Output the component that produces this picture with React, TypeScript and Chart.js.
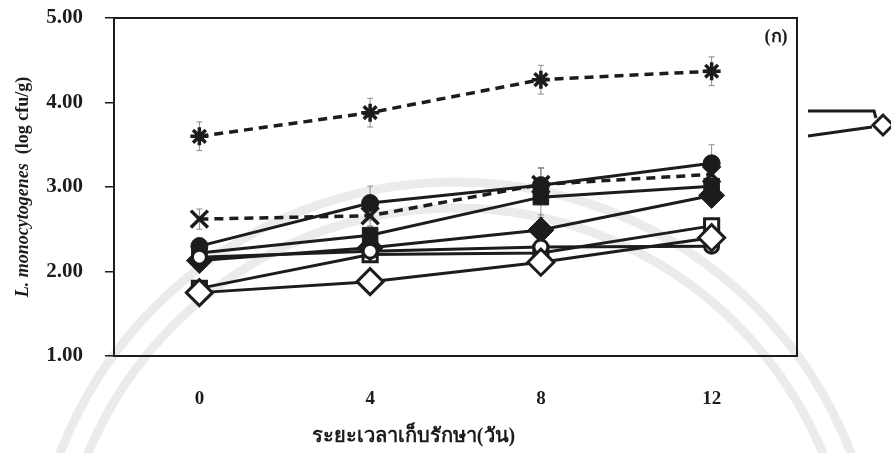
import React, { useEffect, useRef } from 'react';
import { Chart, registerables } from 'chart.js';

Chart.register(...registerables);

// Storage time (days)
const days = ['0', '4', '8', '12'];
const yMin = 1;
const yMax = 5;

// log cfu/g per treatment, with standard deviations
const asteriskDashed = [3.6, 3.88, 4.27, 4.37];
const asteriskErr = [0.17, 0.17, 0.17, 0.17];
const crossDashed = [2.62, 2.66, 3.03, 3.15];
const crossErr = [0.12, 0.12, 0.2, 0.1];
const filledCircle = [2.3, 2.81, 3.02, 3.28];
const filledCircleErr = [0.1, 0.2, 0.2, 0.22];
const filledSquare = [2.22, 2.43, 2.88, 3.01];
const filledSquareErr = [0.08, 0.1, 0.24, 0.1];
const filledDiamond = [2.13, 2.28, 2.49, 2.9];
const filledDiamondErr = [0.08, 0.1, 0.18, 0.12];
const openCircle = [2.17, 2.24, 2.29, 2.3];
const openCircleErr = [0.05, 0.05, 0.06, 0.06];
const openSquare = [1.8, 2.2, 2.22, 2.54];
const openSquareErr = [0.06, 0.06, 0.06, 0.09];
const openDiamond = [1.75, 1.88, 2.11, 2.4];
const openDiamondErr = [0.05, 0.05, 0.06, 0.06];

const INK = '#1c1c1c';
const SERIF = '"Liberation Serif", "Times New Roman", serif';

const watermark = {
  id: 'watermark',
  beforeDraw(chart: any) {
    const { ctx, chartArea } = chart;
    const cx = (chartArea.left + chartArea.right) / 2;
    const cy = chartArea.bottom + 250;
    ctx.save();
    ctx.strokeStyle = 'rgba(0,0,0,0.08)';
    ctx.lineWidth = 9;
    [398, 424].forEach((r) => {
      ctx.beginPath();
      ctx.arc(cx, cy, r, Math.PI, 2 * Math.PI);
      ctx.stroke();
    });
    ctx.restore();
  },
};

const frameAndErrors = {
  id: 'frameAndErrors',
  beforeDatasetsDraw(chart: any) {
    const { ctx, chartArea, scales } = chart;
    const y = scales.y;
    ctx.save();
    ctx.strokeStyle = INK;
    ctx.lineWidth = 2;
    ctx.strokeRect(chartArea.left, chartArea.top, chartArea.right - chartArea.left, chartArea.bottom - chartArea.top);

    ctx.strokeStyle = '#8c8c8c';
    ctx.lineWidth = 1;
    chart.data.datasets.forEach((ds: any, i: number) => {
      const err = ds.err;
      if (!err) return;
      const meta = chart.getDatasetMeta(i);
      meta.data.forEach((pt: any, j: number) => {
        const v = ds.data[j];
        const x = pt.x;
        const y1 = y.getPixelForValue(v + err[j]);
        const y2 = y.getPixelForValue(v - err[j]);
        ctx.beginPath();
        ctx.moveTo(x, y1);
        ctx.lineTo(x, y2);
        ctx.moveTo(x - 3, y1);
        ctx.lineTo(x + 3, y1);
        ctx.moveTo(x - 3, y2);
        ctx.lineTo(x + 3, y2);
        ctx.stroke();
      });
    });
    ctx.restore();
  },
};

const titles = {
  id: 'titles',
  afterDraw(chart: any) {
    const { ctx, chartArea } = chart;
    ctx.save();
    ctx.fillStyle = INK;

    // y-axis title: italic species name + plain unit
    const midY = (chartArea.top + chartArea.bottom) / 2;
    ctx.translate(23, midY);
    ctx.rotate(-Math.PI / 2);
    ctx.textBaseline = 'middle';
    ctx.textAlign = 'left';
    const t1 = 'L. monocytogenes';
    const t2 = '  (log cfu/g)';
    ctx.font = `italic bold 18px ${SERIF}`;
    const w1 = ctx.measureText(t1).width;
    ctx.font = `bold 18px ${SERIF}`;
    const w2 = ctx.measureText(t2).width;
    const start = -(w1 + w2) / 2;
    ctx.font = `italic bold 18px ${SERIF}`;
    ctx.fillText(t1, start, 0);
    ctx.font = `bold 18px ${SERIF}`;
    ctx.fillText(t2, start + w1, 0);
    ctx.setTransform(1, 0, 0, 1, 0, 0);

    // x-axis title
    ctx.textAlign = 'center';
    ctx.textBaseline = 'middle';
    ctx.font = `bold 20px ${SERIF}`;
    ctx.fillText('ระยะเวลาเก็บรักษา(วัน)', (chartArea.left + chartArea.right) / 2 - 42, chartArea.bottom + 81);

    // panel label
    ctx.font = `bold 18px ${SERIF}`;
    ctx.fillText('(ก)', chartArea.right - 21, chartArea.top + 19);

    // legend key peeking in at the right edge
    const lx = chartArea.right + 11;
    const ly = chartArea.top + 93;
    ctx.strokeStyle = INK;
    ctx.lineWidth = 3;
    ctx.beginPath();
    ctx.moveTo(lx, ly);
    ctx.lineTo(lx + 66, ly);
    ctx.lineTo(lx + 68, ly + 7);
    ctx.stroke();
    ctx.beginPath();
    ctx.moveTo(lx, ly + 25);
    ctx.lineTo(lx + 64, ly + 16);
    ctx.stroke();
    const dx = lx + 75;
    const dy = ly + 14;
    ctx.beginPath();
    ctx.moveTo(dx - 10, dy);
    ctx.lineTo(dx, dy - 10);
    ctx.lineTo(dx + 10, dy);
    ctx.lineTo(dx, dy + 10);
    ctx.closePath();
    ctx.fillStyle = '#fff';
    ctx.fill();
    ctx.stroke();
    ctx.restore();
  },
};

function series(data: number[], err: number[], style: string, radius: number, filled: boolean, dashed: boolean) {
  return {
    data,
    err,
    borderColor: INK,
    backgroundColor: filled ? INK : '#ffffff',
    borderWidth: dashed ? 3.5 : 3,
    borderDash: dashed ? [9, 6] : [],
    pointStyle: style,
    pointRadius: radius,
    pointBorderWidth: filled ? 1 : 3,
    pointBorderColor: INK,
    pointBackgroundColor: filled ? INK : '#ffffff',
    tension: 0,
    fill: false,
  };
}

export default function App() {
  const canvasRef = useRef<HTMLCanvasElement | null>(null);

  useEffect(() => {
    if (!canvasRef.current) return;
    const asterisk = series(asteriskDashed, asteriskErr, 'star', 9, false, true);
    asterisk.pointBorderWidth = 3.5;
    const cross = series(crossDashed, crossErr, 'crossRot', 12, false, true);
    cross.pointBorderWidth = 3.5;

    const chart = new Chart(canvasRef.current, {
      type: 'line',
      data: {
        labels: days,
        datasets: [
          series(openDiamond, openDiamondErr, 'rectRot', 13, false, false),
          series(openCircle, openCircleErr, 'circle', 7, false, false),
          series(filledDiamond, filledDiamondErr, 'rectRot', 13, true, false),
          series(openSquare, openSquareErr, 'rect', 10, false, false),
          series(filledSquare, filledSquareErr, 'rect', 11, true, false),
          series(filledCircle, filledCircleErr, 'circle', 8.5, true, false),
          cross,
          asterisk,
        ] as any,
      },
      options: {
        animation: false,
        responsive: true,
        maintainAspectRatio: false,
        layout: { padding: { top: 18, right: 94, left: 0, bottom: 0 } },
        plugins: {
          legend: { display: false },
          tooltip: { enabled: false },
        },
        scales: {
          x: {
            offset: true,
            grid: { display: false, drawTicks: false },
            border: { display: false },
            ticks: {
              color: INK,
              padding: 32,
              font: { family: SERIF, size: 19, weight: 'bold' },
            },
            afterFit(scale: any) {
              scale.height = 97;
            },
          },
          y: {
            min: yMin,
            max: yMax,
            grid: { drawOnChartArea: false, drawTicks: true, tickLength: 9, tickColor: INK, lineWidth: 1.5 },
            border: { display: false },
            ticks: {
              stepSize: 1,
              color: INK,
              padding: 22,
              font: { family: SERIF, size: 21, weight: 'bold' },
              callback: (v: any) => Number(v).toFixed(2),
            },
            afterFit(scale: any) {
              scale.width = 114;
              scale.paddingTop = 0;
              scale.paddingBottom = 0;
            },
          },
        },
      } as any,
      plugins: [watermark, frameAndErrors, titles],
    });
    return () => chart.destroy();
  }, []);

  return (
    <div style={{ position: 'fixed', left: 0, top: 0, width: 891, height: 453, background: '#fff' }}>
      <canvas ref={canvasRef} />
    </div>
  );
}
